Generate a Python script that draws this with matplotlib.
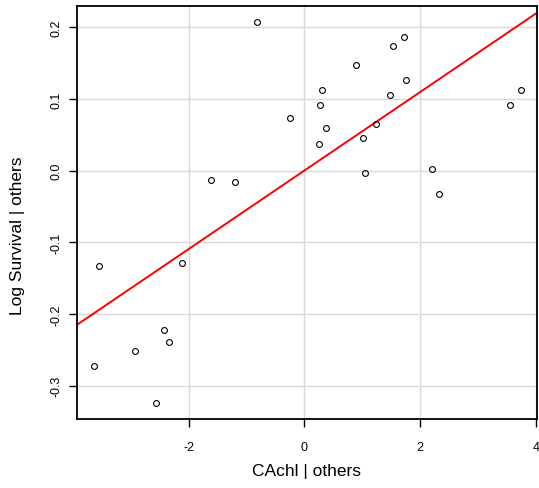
import numpy as np
import matplotlib
matplotlib.use("Agg")
import matplotlib.pyplot as plt

# Data (added-variable plot)
cachl = [-0.82, -1.61, -1.20, -0.25, 0.30, 0.27, 0.38, 0.25, 0.89, 1.53,
         1.72, 1.75, 1.48, 1.23, 1.01, 1.04, 2.20, 2.32, 3.55, 3.74,
         -3.55, -2.11, -2.43, -2.33, -2.93, -3.63, -2.56]
log_survival = [0.208, -0.013, -0.016, 0.074, 0.112, 0.091, 0.060, 0.037, 0.147, 0.174,
                0.187, 0.126, 0.106, 0.065, 0.046, -0.003, 0.003, -0.033, 0.091, 0.112,
                -0.133, -0.129, -0.222, -0.239, -0.251, -0.272, -0.324]
fit_slope = 0.0548
fit_intercept = 0.0002

xticks = [-2, 0, 2, 4]
yticks = [-0.3, -0.2, -0.1, 0.0, 0.1, 0.2]

plt.rcParams['font.family'] = ['Liberation Sans', 'DejaVu Sans']

fig = plt.figure(figsize=(5.39, 4.89), dpi=100)
ax = fig.add_axes([0.1423, 0.1411, 0.8534, 0.8456])

xlim = (-3.93, 4.01)
ylim = (-0.3463, 0.2304)

ax.grid(True, color='#d9d9d9', linewidth=1.0)
ax.set_axisbelow(True)

xs = np.array(xlim)
ax.plot(xs, fit_intercept + fit_slope * xs, color='red', linewidth=1.4, zorder=2)
ax.plot(cachl, log_survival, linestyle='none', marker='o', markersize=4.2,
        markerfacecolor='none', markeredgecolor='black', markeredgewidth=0.8, zorder=3)

ax.set_xlim(xlim)
ax.set_ylim(ylim)
ax.set_xticks(xticks)
ax.set_yticks(yticks)
ax.set_xticklabels([str(t) for t in xticks])
ax.set_yticklabels(['%.1f' % t for t in yticks], rotation=90, va='center')
ax.tick_params(axis='both', direction='out', length=6, width=1, labelsize=9)
ax.tick_params(axis='x', pad=10)
ax.tick_params(axis='y', pad=4)

for s in ax.spines.values():
    s.set_linewidth(1.3)

ax.set_xlabel('CAchl | others', fontsize=12.5)
ax.set_ylabel('Log Survival | others', fontsize=12.5)
ax.xaxis.set_label_coords(0.5, -0.125)
ax.yaxis.set_label_coords(-0.129, 0.445)
ax.yaxis.label.set_verticalalignment('center')
ax.xaxis.label.set_verticalalignment('center')

fig.savefig('out.png', dpi=100)
